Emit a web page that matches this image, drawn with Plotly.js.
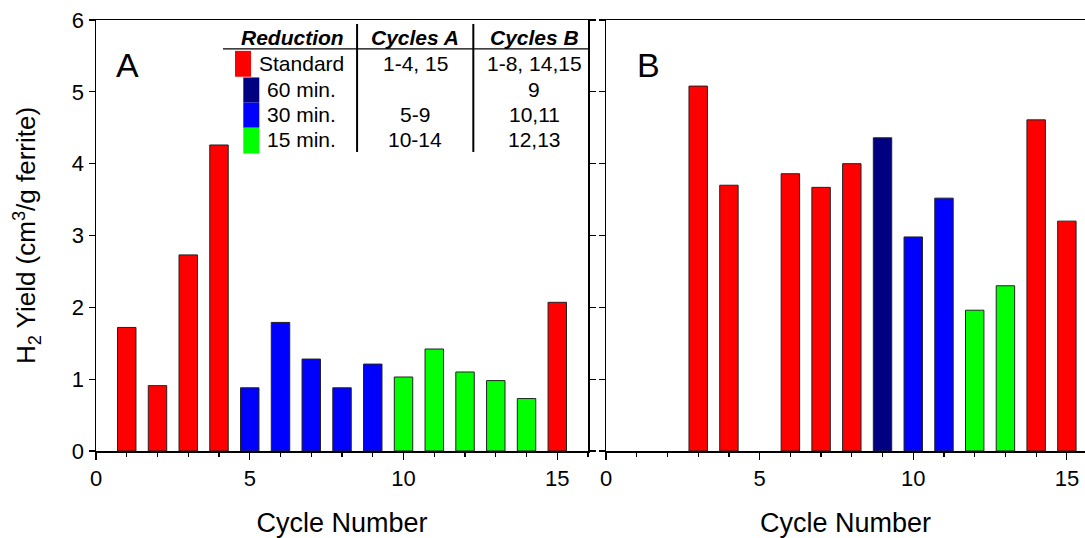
<!DOCTYPE html>
<html>
<head>
<meta charset="utf-8">
<script src="https://cdn.plot.ly/plotly-3.0.1.min.js"></script>
<style>html,body{margin:0;padding:0;background:#fff;}#chart{width:1085px;height:538px;}</style>
</head>
<body>
<div id="chart"></div>
<script>
// ---- data ----
const cycles = [1,2,3,4,5,6,7,8,9,10,11,12,13,14,15];
const yieldA = [1.72,0.91,2.73,4.26,0.88,1.79,1.28,0.88,1.21,1.03,1.42,1.10,0.98,0.73,2.07];
const reductionA = ['Standard','Standard','Standard','Standard','30 min.','30 min.','30 min.','30 min.','30 min.','15 min.','15 min.','15 min.','15 min.','15 min.','Standard'];
const cyclesB = [3,4,6,7,8,9,10,11,12,13,14,15];
const yieldB = [5.08,3.70,3.86,3.67,4.00,4.36,2.98,3.52,1.96,2.30,4.61,3.20];
const reductionB = ['Standard','Standard','Standard','Standard','Standard','60 min.','30 min.','30 min.','15 min.','15 min.','Standard','Standard'];

const tableHeader = ['Reduction','Cycles A','Cycles B'];
const tableReduction = ['Standard','60 min.','30 min.','15 min.'];
const tableCyclesA = ['1-4, 15','','5-9','10-14'];
const tableCyclesB = ['1-8, 14,15','9','10,11','12,13'];

const xTickVals = [0,5,10,15];
const yTickVals = [0,1,2,3,4,5,6];

// ---- styles ----
const colorMap = {'Standard':'#FF0000','60 min.':'#000080','30 min.':'#0000FF','15 min.':'#00FF00'};
const FONT = '"Liberation Sans", Arial, sans-serif';

const traces = [
  {type:'bar', x:cycles, y:yieldA, xaxis:'x', yaxis:'y', width:0.6,
   marker:{color:reductionA.map(r=>colorMap[r]), line:{color:'#222', width:1}}, showlegend:false, hoverinfo:'x+y'},
  {type:'bar', x:cyclesB, y:yieldB, xaxis:'x2', yaxis:'y2', width:0.6,
   marker:{color:reductionB.map(r=>colorMap[r]), line:{color:'#222', width:1}}, showlegend:false, hoverinfo:'x+y'}
];

const axisCommon = {
  showgrid:false, zeroline:false, showline:true, linecolor:'#000', linewidth:1.5,
  ticks:'outside', ticklen:6, tickwidth:1.2, tickcolor:'#000',
  tickfont:{family:FONT, size:22, color:'#000'}
};

function xAxis(domain, range){
  return Object.assign({}, axisCommon, {
    domain:domain, range:range, tickmode:'array', tickvals:xTickVals, ticklen:7,
    mirror:true, automargin:false,
    minor:{dtick:1, tick0:0, ticks:'outside', ticklen:4, tickwidth:1.2, tickcolor:'#000'},
    title:{text:'Cycle Number', font:{family:FONT, size:27, color:'#000'}, standoff:27}
  });
}

const layout = {
  width:1085, height:538,
  margin:{l:96, r:0, t:20, b:87},
  paper_bgcolor:'#fff', plot_bgcolor:'#fff',
  font:{family:FONT, color:'#000'},
  showlegend:false,
  bargap:0,
  xaxis: Object.assign(xAxis([0,0.4975],[0,16]), {anchor:'y'}),
  xaxis2: Object.assign(xAxis([0.5157,1],[0,15.59]), {anchor:'y2'}),
  yaxis: Object.assign({}, axisCommon, {
    domain:[0,1], range:[0,6], tickmode:'array', tickvals:yTickVals, anchor:'x',
    mirror:'ticks', automargin:false,
    title:{text:'H<sub>2</sub> Yield (cm<sup>3</sup>/g ferrite)', font:{family:FONT, size:26, color:'#000'}, standoff:28}
  }),
  yaxis2: Object.assign({}, axisCommon, {
    domain:[0,1], range:[0,6], tickmode:'array', tickvals:yTickVals, anchor:'x2',
    showticklabels:false, mirror:false
  }),
  shapes:[], annotations:[]
};

// panel labels
layout.annotations.push({xref:'x', yref:'y', x:1.01, y:5.37, text:'A', showarrow:false,
  font:{family:FONT, size:34, color:'#000'}, xanchor:'center', yanchor:'middle'});
layout.annotations.push({xref:'x2', yref:'y2', x:1.37, y:5.37, text:'B', showarrow:false,
  font:{family:FONT, size:34, color:'#000'}, xanchor:'center', yanchor:'middle'});

// table inset (in panel A data coordinates)
const headerY = 5.75;
const rowY = [5.40, 5.03, 4.68, 4.33];
const colX = [6.38, 10.38, 14.25];
const tFont = {family:FONT, size:21, color:'#000'};
tableHeader.forEach((h,i)=>{
  layout.annotations.push({xref:'x', yref:'y', x:colX[i], y:headerY, text:'<b><i>'+h+'</i></b>',
    showarrow:false, font:tFont, xanchor:'center', yanchor:'middle'});
});
const swatchX = [[4.52,5.04],[4.79,5.31],[4.79,5.31],[4.79,5.31]];
const swatchY = [[5.21,5.57],[4.85,5.20],[4.50,4.85],[4.14,4.50]];
const labelX = [5.22, 5.48, 5.48, 5.48];
tableReduction.forEach((r,i)=>{
  layout.shapes.push({type:'rect', xref:'x', yref:'y', x0:swatchX[i][0], x1:swatchX[i][1],
    y0:swatchY[i][0], y1:swatchY[i][1], fillcolor:colorMap[r], line:{width:0}});
  layout.annotations.push({xref:'x', yref:'y', x:labelX[i], y:rowY[i], text:r, showarrow:false,
    font:tFont, xanchor:'left', yanchor:'middle'});
  if (tableCyclesA[i]) layout.annotations.push({xref:'x', yref:'y', x:colX[1], y:rowY[i], text:tableCyclesA[i],
    showarrow:false, font:tFont, xanchor:'center', yanchor:'middle'});
  if (tableCyclesB[i]) layout.annotations.push({xref:'x', yref:'y', x:colX[2], y:rowY[i], text:tableCyclesB[i],
    showarrow:false, font:tFont, xanchor:'center', yanchor:'middle'});
});
// table lines
layout.shapes.push({type:'line', xref:'x', yref:'y', x0:4.13, x1:16.0, y0:5.597, y1:5.597, line:{color:'#000', width:1.2}});
layout.shapes.push({type:'line', xref:'x', yref:'y', x0:8.49, x1:8.49, y0:4.163, y1:5.945, line:{color:'#000', width:2}});
layout.shapes.push({type:'line', xref:'x', yref:'y', x0:12.27, x1:12.27, y0:4.163, y1:5.945, line:{color:'#000', width:2}});

Plotly.newPlot('chart', traces, layout, {staticPlot:true, displayModeBar:false});
</script>
</body>
</html>
